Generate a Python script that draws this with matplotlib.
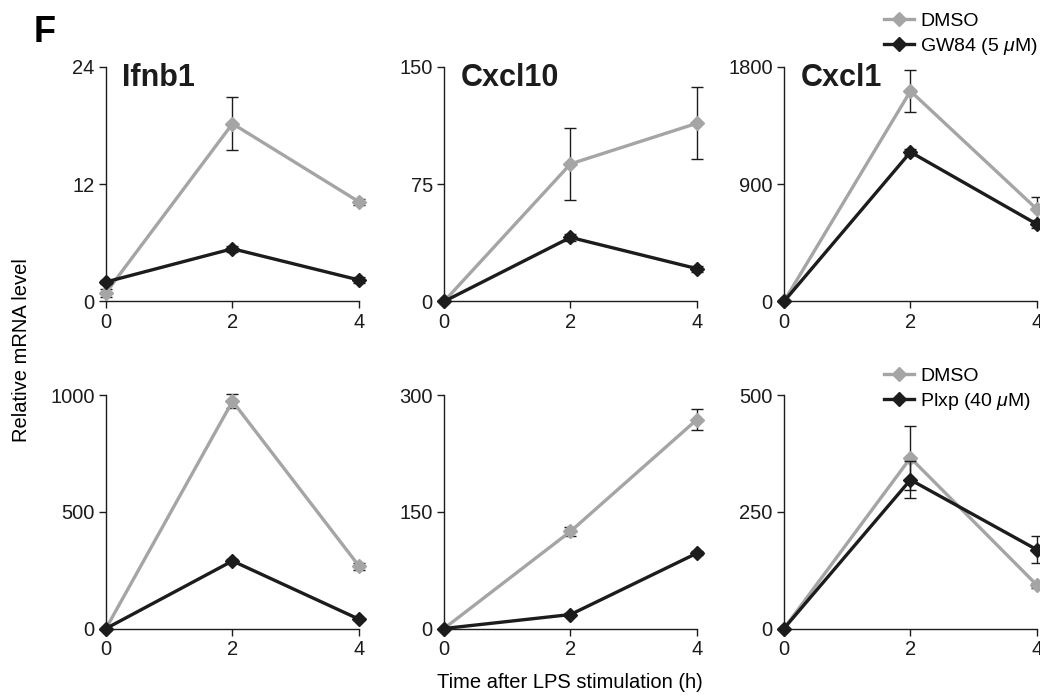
import numpy as np
import matplotlib
matplotlib.use("Agg")
import matplotlib.pyplot as plt
from matplotlib.lines import Line2D

plt.rcParams['font.family'] = ['Liberation Sans', 'DejaVu Sans']
plt.rcParams['mathtext.fontset'] = 'custom'
plt.rcParams['mathtext.rm'] = 'Liberation Sans'
plt.rcParams['mathtext.it'] = 'Liberation Sans:italic'

GRAY = '#a5a5a5'
BLACK = '#1c1c1c'

# Time points (h)
times = [0, 2, 4]

# Top row: DMSO vs GW84
genes_top = ['Ifnb1', 'Cxcl10', 'Cxcl1']
ymax_top = [24, 150, 1800]
dmso_top = [[0.9, 18.2, 10.2], [0, 88, 114], [0, 1615, 708]]
dmso_top_err = [[0.4, 2.7, 0.3], [0, 23, 23], [0, 160, 95]]
gw84 = [[2.0, 5.4, 2.2], [0, 41, 21], [0, 1147, 593]]
gw84_err = [[0.2, 0.3, 0.3], [0, 2, 2], [0, 25, 30]]

# Bottom row: DMSO vs Plxp
ymax_bot = [1000, 300, 500]
dmso_bot = [[0, 975, 268], [0, 125, 269], [0, 366, 93]]
dmso_bot_err = [[0, 30, 15], [0, 6, 14], [0, 68, 5]]
plxp = [[0, 290, 40], [0, 18, 97], [0, 319, 169]]
plxp_err = [[0, 10, 3], [0, 2, 3], [0, 40, 29]]

fig = plt.figure(figsize=(10.4, 7.0), dpi=100)

lefts = [0.1019, 0.4269, 0.7538]
width = 0.2433
rows = [(0.5693, 0.335), (0.1021, 0.333)]


def draw_panel(ax, y1, e1, y2, e2, ymax):
    ax.errorbar(times, y1, yerr=e1, color=GRAY, ecolor=BLACK, elinewidth=1.0,
                capsize=4, capthick=1.0, lw=2.4, marker='D', ms=7,
                clip_on=False, zorder=3)
    ax.errorbar(times, y2, yerr=e2, color=BLACK, ecolor=BLACK, elinewidth=1.0,
                capsize=4, capthick=1.0, lw=2.4, marker='D', ms=7,
                clip_on=False, zorder=4)
    ax.set_xlim(0, 4)
    ax.set_ylim(0, ymax)
    ax.set_xticks(times)
    ax.set_yticks([0, ymax / 2, ymax])
    ax.set_yticklabels([str(int(v)) for v in [0, ymax / 2, ymax]])
    for s in ['top', 'right']:
        ax.spines[s].set_visible(False)
    for s in ['left', 'bottom']:
        ax.spines[s].set_linewidth(1.0)
        ax.spines[s].set_color(BLACK)
    ax.tick_params(direction='out', length=5, width=1.0, labelsize=14.5,
                   colors=BLACK, pad=3)
    ax.patch.set_alpha(0)


def add_legend(label2, y):
    handles = [Line2D([], [], color=GRAY, lw=2.4, marker='D', ms=7, label='DMSO'),
               Line2D([], [], color=BLACK, lw=2.4, marker='D', ms=7, label=label2)]
    fig.legend(handles=handles, loc='upper left', bbox_to_anchor=(0.843, y),
               frameon=False, fontsize=14, handlelength=1.5,
               handletextpad=0.35, labelspacing=0.3, borderaxespad=0)


for i in range(3):
    ax = fig.add_axes([lefts[i], rows[0][0], width, rows[0][1]])
    draw_panel(ax, dmso_top[i], dmso_top_err[i], gw84[i], gw84_err[i], ymax_top[i])
    ax.text(0.065, 1.015, genes_top[i], transform=ax.transAxes, ha='left',
            va='top', fontsize=22, fontweight='bold', color=BLACK)

for i in range(3):
    ax = fig.add_axes([lefts[i], rows[1][0], width, rows[1][1]])
    draw_panel(ax, dmso_bot[i], dmso_bot_err[i], plxp[i], plxp_err[i], ymax_bot[i])

add_legend(r'GW84 (5 $\mu$M)', 0.993)
add_legend(r'Plxp (40 $\mu$M)', 0.486)

fig.text(0.032, 0.953, 'F', fontsize=26, fontweight='bold', ha='left', va='center')
fig.text(0.548, 0.025, 'Time after LPS stimulation (h)', fontsize=14.5,
         ha='center', va='center')
fig.text(0.021, 0.5, 'Relative mRNA level', fontsize=14.5, rotation=90,
         ha='center', va='center')

fig.savefig('out.png', dpi=100)
